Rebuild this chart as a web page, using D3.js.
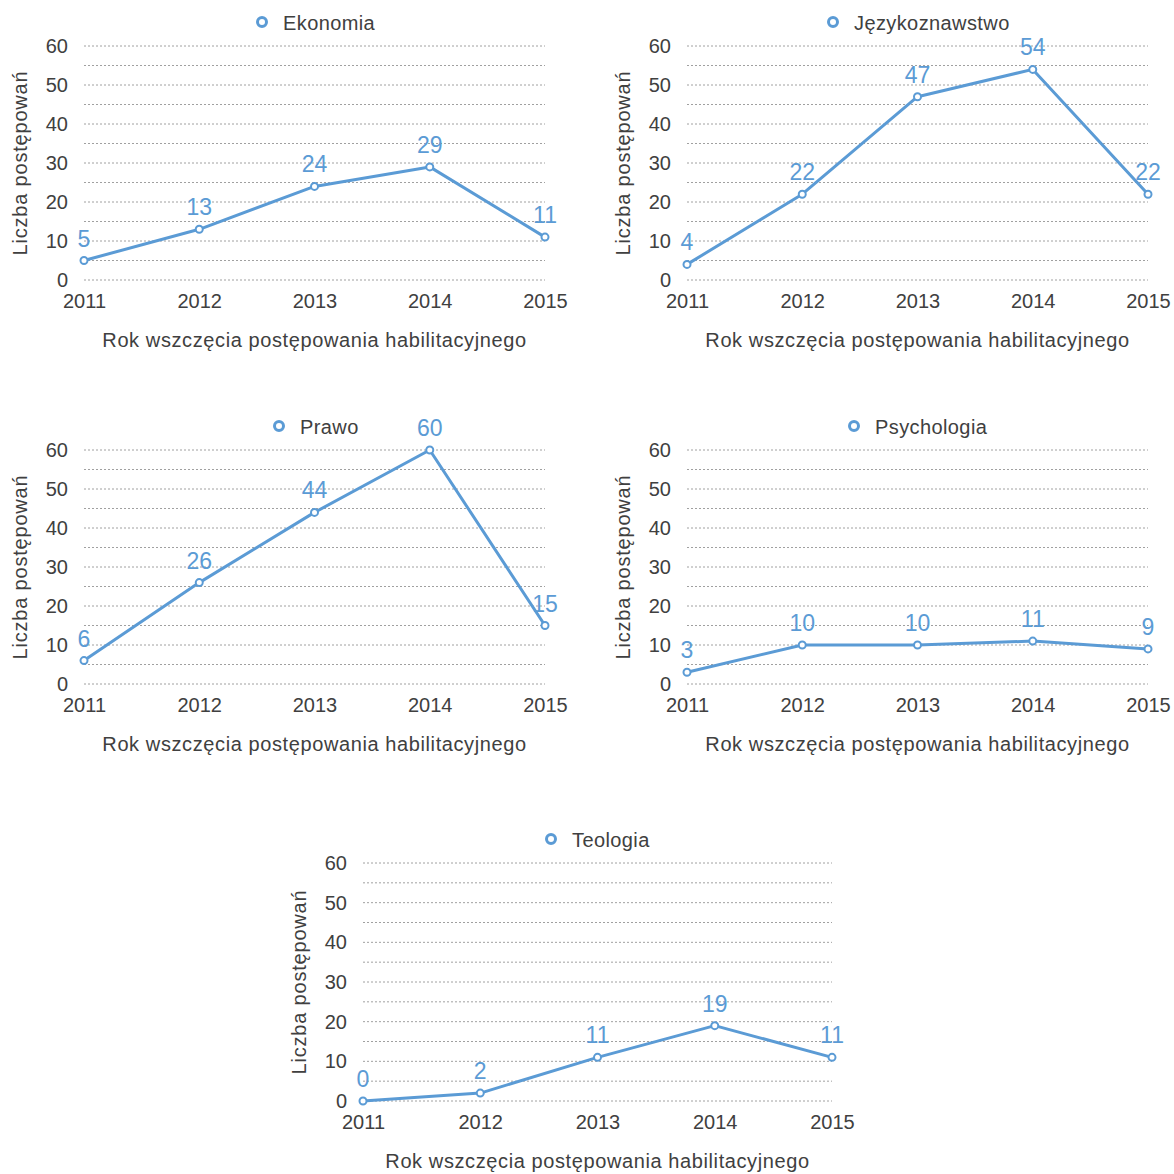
<!DOCTYPE html>
<html>
<head>
<meta charset="utf-8">
<script src="https://cdn.jsdelivr.net/npm/d3@7"></script>
<style>
  html, body { margin: 0; padding: 0; background: #fff; }
  svg text { font-family: "Liberation Sans", Arial, sans-serif; }
</style>
</head>
<body>
<svg id="chart" width="1174" height="1174"></svg>
<script>
// Habilitation proceedings started per year, by discipline
const years = [2011, 2012, 2013, 2014, 2015];
const disciplines = ["Ekonomia", "Językoznawstwo", "Prawo", "Psychologia", "Teologia"];
const ekonomia = [5, 13, 24, 29, 11];
const jezykoznawstwo = [4, 22, 47, 54, 22];
const prawo = [6, 26, 44, 60, 15];
const psychologia = [3, 10, 10, 11, 9];
const teologia = [0, 2, 11, 19, 11];
const seriesValues = [ekonomia, jezykoznawstwo, prawo, psychologia, teologia];
const yTicks = [0, 10, 20, 30, 40, 50, 60];
const gridValues = d3.range(0, 61, 5);
const yTitle = "Liczba postępowań";
const xTitle = "Rok wszczęcia postępowania habilitacyjnego";

// Plot areas for the five small multiples
const frames = [
  { x0: 84,  x1: 545,  y0: 280,  y1: 46,  legendX: 262 },
  { x0: 687, x1: 1148, y0: 280,  y1: 46,  legendX: 833 },
  { x0: 84,  x1: 545,  y0: 684,  y1: 450, legendX: 279 },
  { x0: 687, x1: 1148, y0: 684,  y1: 450, legendX: 854 },
  { x0: 363, x1: 832,  y0: 1101, y1: 863, legendX: 551 }
];

const blue = "#5b9bd5";
const ink = "#404040";
const svg = d3.select("#chart");

frames.forEach((f, i) => {
  const values = seriesValues[i];
  const x = d3.scalePoint().domain(years).range([f.x0, f.x1]);
  const y = d3.scaleLinear().domain([0, 60]).range([f.y0, f.y1]);
  const g = svg.append("g");

  // dotted gridlines every 5
  g.selectAll("line.grid").data(gridValues).join("line")
    .attr("x1", f.x0).attr("x2", f.x1)
    .attr("y1", d => y(d)).attr("y2", d => y(d))
    .attr("stroke", "#a0a0a0").attr("stroke-width", 1)
    .attr("stroke-dasharray", "2,2");

  // y axis labels
  const yAxis = d3.axisLeft(y).tickValues(yTicks).tickSize(0).tickPadding(0);
  const ya = g.append("g").attr("transform", `translate(${f.x0 - 16},0)`).call(yAxis);
  ya.select(".domain").remove();
  ya.selectAll("text").attr("font-size", 20).attr("fill", ink)
    .attr("font-family", "'Liberation Sans', Arial, sans-serif");

  // x axis labels
  const xAxis = d3.axisBottom(x).tickSize(0).tickPadding(0);
  const xa = g.append("g").attr("transform", `translate(0,${f.y0 + 14})`).call(xAxis);
  xa.select(".domain").remove();
  xa.selectAll("text").attr("font-size", 20).attr("fill", ink)
    .attr("font-family", "'Liberation Sans', Arial, sans-serif");

  // axis titles
  const midY = (f.y0 + f.y1) / 2;
  g.append("text")
    .attr("transform", `translate(${f.x0 - 64},${midY}) rotate(-90)`)
    .attr("text-anchor", "middle").attr("dominant-baseline", "central")
    .attr("font-size", 20).attr("letter-spacing", 0.8)
    .attr("fill", ink).text(yTitle);
  g.append("text")
    .attr("x", (f.x0 + f.x1) / 2).attr("y", f.y0 + 60)
    .attr("text-anchor", "middle").attr("dominant-baseline", "central")
    .attr("font-size", 20).attr("letter-spacing", 0.6)
    .attr("fill", ink).text(xTitle);

  // legend
  const ly = f.y1 - 24;
  g.append("circle").attr("cx", f.legendX).attr("cy", ly).attr("r", 4.5)
    .attr("fill", "#fff").attr("stroke", blue).attr("stroke-width", 3);
  g.append("text").attr("x", f.legendX + 21).attr("y", ly + 1)
    .attr("dominant-baseline", "central")
    .attr("font-size", 20).attr("letter-spacing", 0.4)
    .attr("fill", ink).text(disciplines[i]);

  // series line
  const pts = years.map((yr, k) => ({ yr, v: values[k] }));
  g.append("path").datum(pts)
    .attr("d", d3.line().x(d => x(d.yr)).y(d => y(d.v)))
    .attr("fill", "none").attr("stroke", blue).attr("stroke-width", 3)
    .attr("stroke-linejoin", "round");

  // markers
  g.selectAll("circle.pt").data(pts).join("circle")
    .attr("cx", d => x(d.yr)).attr("cy", d => y(d.v)).attr("r", 3.5)
    .attr("fill", "#fff").attr("stroke", blue).attr("stroke-width", 2);

  // value labels
  g.selectAll("text.val").data(pts).join("text")
    .attr("x", d => x(d.yr)).attr("y", d => y(d.v) - 14)
    .attr("text-anchor", "middle")
    .attr("font-size", 23).attr("fill", blue).text(d => d.v);
});
</script>
</body>
</html>
